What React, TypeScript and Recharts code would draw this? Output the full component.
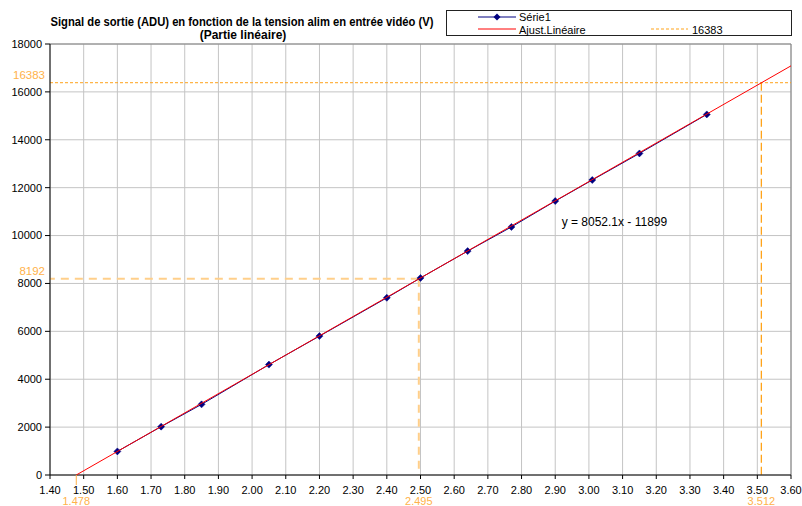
import React from 'react';
import { ComposedChart, Scatter, XAxis, YAxis, CartesianGrid, ReferenceLine, ReferenceDot } from 'recharts';

const serieX = [1.60, 1.73, 1.85, 2.05, 2.20, 2.40, 2.50, 2.64, 2.77, 2.90, 3.01, 3.15, 3.35];
const serieY = [985, 2020, 2950, 4610, 5800, 7400, 8230, 9350, 10360, 11440, 12320, 13430, 15060];
const fitX = [1.478, 3.60];
const fitY = [0, 17088];
const xTicks = [1.4, 1.5, 1.6, 1.7, 1.8, 1.9, 2.0, 2.1, 2.2, 2.3, 2.4, 2.5, 2.6, 2.7, 2.8, 2.9, 3.0, 3.1, 3.2, 3.3, 3.4, 3.5, 3.6];
const yTicks = [0, 2000, 4000, 6000, 8000, 10000, 12000, 14000, 16000, 18000];
const satLevel = 16383;
const halfLevel = 8192;
const vSat = 3.512;
const vHalf = 2.495;
const vZero = 1.478;
const equation = 'y = 8052.1x - 11899';
const eqPos = { x: 2.919, y: 10560 };
const title1 = 'Signal de sortie (ADU) en fonction de la tension alim en entrée vidéo (V)';
const title2 = '(Partie linéaire)';

const serie = serieX.map((x, i) => ({ x, y: serieY[i] }));
const fit = fitX.map((x, i) => ({ x, y: fitY[i] }));

const FONT = '"Liberation Sans", Arial, sans-serif';
const ORANGE = '#FFA31A';
const PEACH = '#FFCF8A';
const LABEL = '#FFB24A';

const Diamond = (p: any) => {
  const { cx, cy } = p;
  if (cx == null || cy == null) return <g />;
  return <polygon points={`${cx},${cy - 3.5} ${cx + 3.5},${cy} ${cx},${cy + 3.5} ${cx - 3.5},${cy}`} fill="#000080" stroke="#000080" strokeWidth={0.5} />;
};

const NoShape = () => <g />;

const leftLabel = (txt: string) => (p: any) => (
  <text x={p.cx - 5} y={p.cy - 4} textAnchor="end" fill={LABEL} fontSize={11.5} fontFamily={FONT}>{txt}</text>
);

const bottomLabel = (txt: string, tick: boolean) => (p: any) => (
  <g>
    {tick && <line x1={p.cx} y1={p.cy} x2={p.cx} y2={p.cy + 10} stroke={LABEL} strokeWidth={1} />}
    <text x={p.cx} y={p.cy + 30} textAnchor="middle" fill={LABEL} fontSize={11} fontFamily={FONT}>{txt}</text>
  </g>
);

const eqLabel = (p: any) => (
  <text x={p.cx} y={p.cy + 4} textAnchor="start" fill="#000" fontSize={12} fontFamily={FONT}>{equation}</text>
);

export default function App() {
  return (
    <div style={{ position: 'absolute', left: 0, top: 0, width: 802, height: 506, background: '#fff' }}>
      <ComposedChart width={802} height={506} margin={{ top: 44, right: 11, bottom: 0, left: 0 }}>
        <CartesianGrid stroke="#c4c4c4" />
        <XAxis
          type="number"
          dataKey="x"
          domain={[1.4, 3.6]}
          ticks={xTicks}
          interval={0}
          allowDataOverflow
          tickFormatter={(v: number) => v.toFixed(2)}
          height={31}
          tickSize={4}
          tickMargin={7}
          axisLine={{ stroke: '#000' }}
          tickLine={{ stroke: '#000' }}
          tick={{ fill: '#000', fontSize: 11, fontFamily: FONT }}
        />
        <YAxis
          type="number"
          dataKey="y"
          domain={[0, 18000]}
          ticks={yTicks}
          interval={0}
          allowDataOverflow
          width={50}
          tickSize={5}
          tickMargin={3}
          axisLine={{ stroke: '#000' }}
          tickLine={{ stroke: '#000' }}
          tick={{ fill: '#000', fontSize: 11, fontFamily: FONT }}
        />
        <ReferenceLine y={18000} stroke="#808080" />
        <ReferenceLine x={3.6} stroke="#808080" />
        <ReferenceLine segment={[{ x: 1.4, y: satLevel }, { x: 3.6, y: satLevel }]} stroke={ORANGE} strokeDasharray="3 2" />
        <ReferenceLine segment={[{ x: vSat, y: satLevel }, { x: vSat, y: 0 }]} stroke={ORANGE} strokeWidth={1.3} strokeDasharray="8 4" />
        <ReferenceLine segment={[{ x: vHalf, y: halfLevel }, { x: 1.4, y: halfLevel }]} stroke={PEACH} strokeWidth={2} strokeDasharray="8 6" />
        <ReferenceLine segment={[{ x: vHalf, y: halfLevel }, { x: vHalf, y: 0 }]} stroke={PEACH} strokeWidth={2} strokeDasharray="8 6" />
        <Scatter data={serie} line={{ stroke: '#000080', strokeWidth: 1 }} shape={Diamond} isAnimationActive={false} />
        <Scatter data={fit} line={{ stroke: '#FF0000', strokeWidth: 1 }} shape={NoShape} isAnimationActive={false} />
        <ReferenceDot x={1.4} y={satLevel} r={0} ifOverflow="visible" shape={leftLabel(String(satLevel))} />
        <ReferenceDot x={1.4} y={halfLevel} r={0} ifOverflow="visible" shape={leftLabel(String(halfLevel))} />
        <ReferenceDot x={vZero} y={0} r={0} ifOverflow="visible" shape={bottomLabel(vZero.toFixed(3), true)} />
        <ReferenceDot x={vHalf} y={0} r={0} ifOverflow="visible" shape={bottomLabel(vHalf.toFixed(3), false)} />
        <ReferenceDot x={vSat} y={0} r={0} ifOverflow="visible" shape={bottomLabel(vSat.toFixed(3), false)} />
        <ReferenceDot x={eqPos.x} y={eqPos.y} r={0} ifOverflow="visible" shape={eqLabel} />
      </ComposedChart>
      <svg width={802} height={506} style={{ position: 'absolute', left: 0, top: 0, pointerEvents: 'none' }}>
        <text x={242} y={26} textAnchor="middle" fontSize={12} fontWeight="bold" fontFamily={FONT} textLength={383} lengthAdjust="spacingAndGlyphs">{title1}</text>
        <text x={243} y={39} textAnchor="middle" fontSize={12} fontWeight="bold" fontFamily={FONT}>{title2}</text>
        <rect x={446.5} y={10.5} width={345} height={25} fill="#fff" stroke="#222" strokeWidth={1} />
        <line x1={478} y1={17} x2={516} y2={17} stroke="#000080" strokeWidth={1} />
        <polygon points="497,13.5 500.5,17 497,20.5 493.5,17" fill="#000080" />
        <text x={519} y={21} fontSize={11} fontFamily={FONT} fill="#000">Série1</text>
        <line x1={478} y1={29} x2={516} y2={29} stroke="#FF0000" strokeWidth={1} />
        <text x={519} y={33.5} fontSize={11} fontFamily={FONT} fill="#000">Ajust.Linéaire</text>
        <line x1={651} y1={29} x2={688} y2={29} stroke={ORANGE} strokeWidth={1} strokeDasharray="3 2" />
        <text x={692} y={33.5} fontSize={11} fontFamily={FONT} fill="#000">16383</text>
      </svg>
    </div>
  );
}
